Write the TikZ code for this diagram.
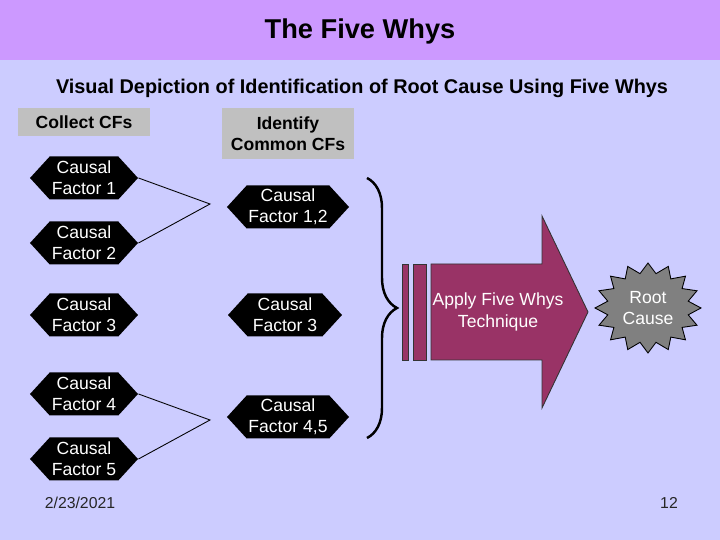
\documentclass[tikz,border=0pt]{standalone}
\usepackage{fontspec}
\setmainfont{Liberation Sans}
\setsansfont{Liberation Sans}
\usetikzlibrary{arrows.meta, calc, positioning, shapes.symbols, decorations.pathreplacing}
\definecolor{cFondo}{HTML}{CCCCFF}
\definecolor{cBanda}{HTML}{CC99FF}
\definecolor{cGris}{HTML}{C0C0C0}
\definecolor{cFlecha}{HTML}{993366}
\definecolor{cRaiz}{HTML}{808080}
\tikzset{
    hdr/.style={fill=cGris, align=center, inner sep=0pt,
                font=\bfseries\fontsize{10}{12}\selectfont},
    cf/.style={signal, signal to=west and east, signal pointer angle=95,
               fill=black, text=white, align=center, inner sep=1pt,
               minimum height=0.86cm, font=\fontsize{10}{12}\selectfont},
    link/.style={line width=0.5pt, black},
    brc/.style={decorate, decoration={brace, amplitude=0.6cm},
                line width=1.4pt, black},
    arr/.style={fill=cFlecha, draw=black!80, line width=0.5pt},
    burst/.style={fill=cRaiz, draw=black, line width=0.5pt},
    wtxt/.style={text=white, align=center, inner sep=0pt,
                 font=\fontsize{10}{12}\selectfont},
    foot/.style={font=\fontsize{9}{11}\selectfont, text=black!85, inner sep=0pt},
}

\begin{document}
\begin{tikzpicture}[x=1cm, y=1cm]

% fondo y banda del titulo
\fill[cFondo] (0,0) rectangle (14.4,10.8);
\fill[cBanda] (0,9.6) rectangle (14.4,10.8);
\node[font=\bfseries\fontsize{15.5}{18}\selectfont] (title) at (7.2,10.18) {The Five Whys};
\node[font=\bfseries\fontsize{11.3}{13}\selectfont] (sub) at (7.24,9.04)
     {Visual Depiction of Identification of Root Cause Using Five Whys};

% cabeceras de columna
\node[hdr, minimum width=2.64cm, minimum height=0.56cm] (colA) at (1.68,8.36) {Collect CFs};
\node[hdr, minimum width=2.64cm, minimum height=1.02cm] (colB) at (5.76,8.13) {Identify\\Common CFs};

% factores causales recogidos
\node[cf, minimum width=2.16cm] (cf1) at (1.68,7.24) {Causal\\Factor 1};
\node[cf, minimum width=2.16cm] (cf2) at (1.68,5.94) {Causal\\Factor 2};
\node[cf, minimum width=2.16cm] (cf3) at (1.68,4.50) {Causal\\Factor 3};
\node[cf, minimum width=2.16cm] (cf4) at (1.68,2.92) {Causal\\Factor 4};
\node[cf, minimum width=2.16cm] (cf5) at (1.68,1.62) {Causal\\Factor 5};

% factores comunes
\node[cf, minimum width=2.40cm] (cf12) at (5.76,6.66) {Causal\\Factor 1,2};
\node[cf, minimum width=2.28cm] (cf3b) at (5.70,4.50) {Causal\\Factor 3};
\node[cf, minimum width=2.40cm] (cf45) at (5.76,2.46) {Causal\\Factor 4,5};

\coordinate (j12) at (4.2,6.72);
\coordinate (j45) at (4.2,2.40);
\draw[link] (cf1.east) -- (j12) -- (cf2.east);
\draw[link] (cf4.east) -- (j45) -- (cf5.east);

% llave que agrupa los factores comunes
\coordinate (bt) at (7.34,7.24);
\coordinate (bb) at (7.34,2.04);
\draw[brc] (bt) -- (bb);

% flecha con franjas: aplicar la tecnica
\filldraw[arr] (8.04,3.6) rectangle (8.16,5.52);
\filldraw[arr] (8.26,3.6) rectangle (8.52,5.52);
\filldraw[arr] (8.62,3.6) -- (8.62,5.52) -- (10.84,5.52) -- (10.84,6.48)
     -- (11.76,4.56) -- (10.84,2.64) -- (10.84,3.6) -- cycle;
\node[wtxt] (apply) at (9.96,4.56) {Apply Five Whys\\Technique};

% causa raiz
\draw[burst, shift={(12.96,4.64)}] (0:1.06cm and 0.9cm)
     \foreach \k in {0,...,15}{ -- ({\k*22.5+11.25}:0.82cm and 0.7cm)
     -- ({(\k+1)*22.5}:1.06cm and 0.9cm)} -- cycle;
\node[wtxt] (root) at (12.96,4.64) {Root\\Cause};

% pie
\node[foot] (date) at (1.6,0.74) {2/23/2021};
\node[foot] (page) at (13.38,0.74) {12};

\end{tikzpicture}
\end{document}
